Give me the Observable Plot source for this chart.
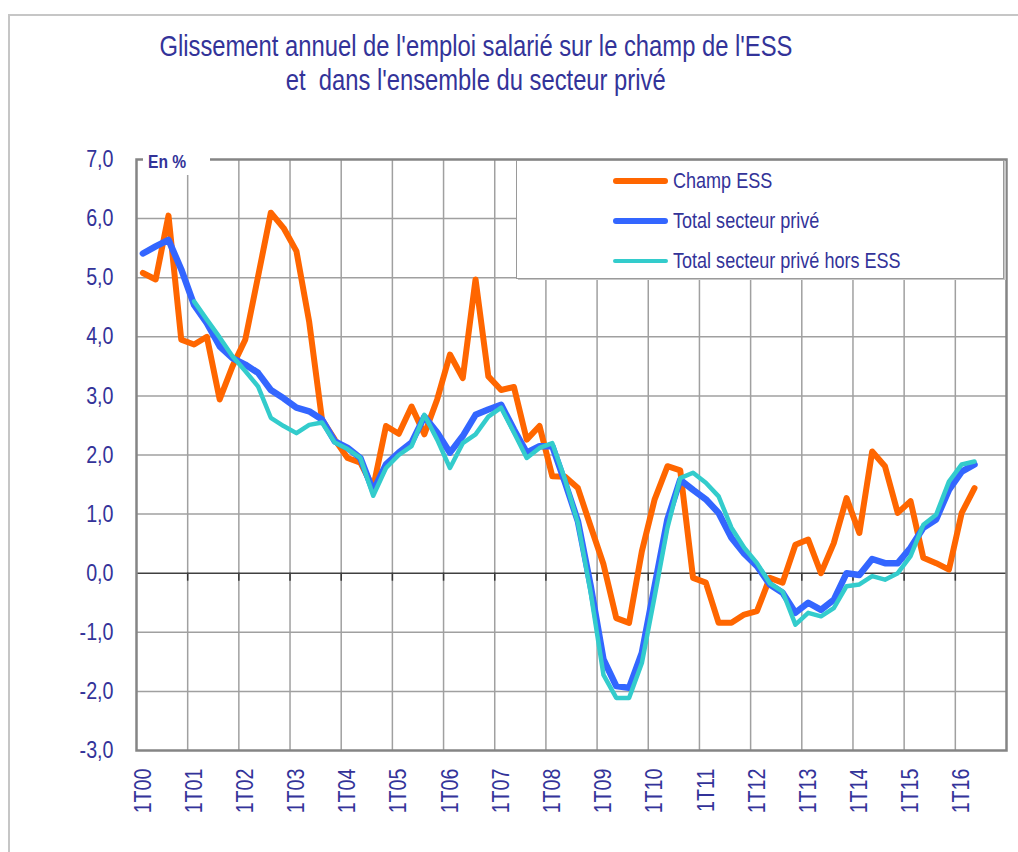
<!DOCTYPE html>
<html><head><meta charset="utf-8">
<script src="https://cdn.jsdelivr.net/npm/d3@7"></script>
<script src="https://cdn.jsdelivr.net/npm/@observablehq/plot@0.6"></script>
<style>
html,body{margin:0;padding:0;background:#fff;overflow:hidden;}
#wrap{position:relative;width:1018px;height:852px;overflow:hidden;font-family:"Liberation Sans",Arial,sans-serif;color:#333399;}
#border{position:absolute;left:8px;top:14px;width:1100px;height:900px;border-left:2px solid #c6c6c6;border-top:2px solid #c6c6c6;}
#chart{position:absolute;left:0;top:0;}
#title{position:absolute;left:0;top:29px;width:952px;text-align:center;font-size:29px;line-height:34px;white-space:pre;}
#title span{display:inline-block;transform:scaleX(0.82);transform-origin:50% 50%;}
#unit{position:absolute;left:143px;top:148px;width:67px;height:27px;background:#fff;font-weight:bold;font-size:19px;line-height:27px;padding-left:5px;box-sizing:border-box;}
#unit span{display:inline-block;transform:scaleX(0.82);transform-origin:0 50%;}
#legend{position:absolute;left:516px;top:160px;width:488px;height:119px;box-sizing:border-box;border:1px solid #9a9a9a;background:#fff;box-shadow:2px 1px 0 #c8c8c8;}
.item{position:absolute;left:96px;height:40px;width:380px;}
.sw{position:absolute;left:0;top:50%;width:55px;border-radius:4px;}
.lb{position:absolute;left:60px;top:0;font-size:22px;line-height:40px;white-space:nowrap;transform:scaleX(0.82);transform-origin:0 50%;}
</style>
</head><body>
<div id="wrap">
  <div id="border"></div>
  <div id="chart"></div>
  <div id="title"></div>
  <div id="unit"><span>En %</span></div>
  <div id="legend"></div>
</div>
<script>
// ---- Data ----
const years = d3.range(0, 17).map(y => String(y).padStart(2, "0"));
const quarters = years.flatMap(y => [1, 2, 3, 4].map(q => q + "T" + y)); // 1T00 .. 4T16
const xTickLabels = years.map(y => "1T" + y);
const yTicks = [-3, -2, -1, 0, 1, 2, 3, 4, 5, 6, 7];
const seriesNames = ["Champ ESS", "Total secteur privé", "Total secteur privé hors ESS"];
const seriesColors = ["#FF6600", "#3366FF", "#33CCCC"];
const seriesWidths = [6, 6.5, 4.5];

const champESS = [5.08, 4.97, 6.05, 3.95, 3.87, 4.00, 2.94, 3.50, 3.95, 5.02, 6.10, 5.84, 5.45, 4.25, 2.60, 2.26,
  1.95, 1.87, 1.45, 2.49, 2.36, 2.82, 2.35, 2.94, 3.70, 3.30, 4.97, 3.33, 3.10, 3.15, 2.26, 2.49,
  1.64, 1.63, 1.44, 0.79, 0.15, -0.76, -0.84, 0.37, 1.25, 1.81, 1.74, -0.08, -0.16, -0.84, -0.84, -0.70,
  -0.64, -0.08, -0.16, 0.48, 0.57, 0.00, 0.51, 1.27, 0.68, 2.06, 1.81, 1.02, 1.22, 0.26, 0.17, 0.06,
  1.02, 1.44];
const totalPrive = [5.41, 5.53, 5.64, 5.14, 4.54, 4.23, 3.84, 3.64, 3.53, 3.39, 3.10, 2.96, 2.80, 2.74, 2.60, 2.23,
  2.12, 1.95, 1.39, 1.84, 2.04, 2.21, 2.65, 2.38, 2.04, 2.32, 2.68, 2.77, 2.85, 2.43, 2.04, 2.15,
  2.15, 1.53, 0.88, -0.22, -1.46, -1.91, -1.94, -1.35, -0.22, 0.91, 1.58, 1.41, 1.25, 1.02, 0.60, 0.33,
  0.12, -0.19, -0.33, -0.67, -0.50, -0.62, -0.45, 0.00, -0.03, 0.24, 0.17, 0.17, 0.43, 0.77, 0.91, 1.41,
  1.72, 1.84];
const horsESS = [null, null, null, null, 4.60, 4.29, 3.99, 3.67, 3.42, 3.16, 2.63, 2.49, 2.37, 2.51, 2.55, 2.21,
  2.10, 1.95, 1.31, 1.78, 2.00, 2.15, 2.68, 2.26, 1.78, 2.20, 2.35, 2.65, 2.80, 2.38, 1.95, 2.12,
  2.20, 1.58, 0.85, -0.33, -1.72, -2.11, -2.11, -1.52, -0.39, 0.77, 1.61, 1.70, 1.53, 1.30, 0.77, 0.43,
  0.17, -0.17, -0.31, -0.87, -0.67, -0.73, -0.59, -0.22, -0.19, -0.05, -0.11, 0.00, 0.29, 0.82, 0.99, 1.55,
  1.84, 1.89];
const titleLines = ["Glissement annuel de l'emploi salarié sur le champ de l'ESS", "et  dans l'ensemble du secteur privé"];

// ---- Build table ----
const allSeries = [champESS, totalPrive, horsESS];
const rows = [];
allSeries.forEach((vals, s) => vals.forEach((v, i) => {
  if (v !== null) rows.push({series: seriesNames[s], pos: i + 0.5, q: quarters[i], value: v});
}));
const yearStarts = d3.range(0, quarters.length + 1, 4);         // category boundaries (each 1Tyy)
const labelPos = xTickLabels.map((_, k) => k * 4 + 0.5);          // centre of each 1Tyy category
const innerYears = yearStarts.filter(p => p > 0 && p < quarters.length);
const gridY = yTicks.filter(v => v > yTicks[0] && v < yTicks[yTicks.length - 1] && v !== 0);

const textColor = "#333399";
const chart = Plot.plot({
  width: 1018, height: 852,
  marginLeft: 136, marginRight: 12, marginTop: 159, marginBottom: 102,
  style: {fontFamily: '"Liberation Sans",Arial,sans-serif', color: textColor, background: "transparent"},
  x: {domain: [0, quarters.length]},
  y: {domain: [yTicks[0], yTicks[yTicks.length - 1]]},
  marks: [
    Plot.ruleY(gridY, {stroke: "#a0a0a0", strokeWidth: 1.5}),
    Plot.ruleX(innerYears, {stroke: "#a0a0a0", strokeWidth: 1.5}),
    Plot.ruleX(innerYears, {y1: 0, y2: -0.135, stroke: "#333", strokeWidth: 1.5}),
    Plot.ruleY([0], {stroke: "#404040", strokeWidth: 1.5}),
    Plot.frame({stroke: "#858585", strokeWidth: 2.5}),
    ...seriesNames.map((name, s) => Plot.line(rows.filter(r => r.series === name), {
      x: "pos", y: "value", stroke: seriesColors[s], strokeWidth: seriesWidths[s],
      strokeLinejoin: "round", strokeLinecap: "round"
    })),
    Plot.axisY({ticks: yTicks, tickSize: 0, tickPadding: 23, fontSize: 24, label: null,
      tickFormat: d => d.toFixed(1).replace(".", ",")}),
    Plot.axisX({ticks: labelPos, tickSize: 0, tickPadding: 18, fontSize: 24, tickRotate: -90, label: null,
      tickFormat: d => xTickLabels[Math.round((d - 0.5) / 4)]})
  ]
});
document.getElementById("chart").appendChild(chart);

// Condense SVG text along its reading direction (narrow face as in the original)
const condense = 0.82;
chart.querySelectorAll("text").forEach(t => {
  const len = t.getComputedTextLength();
  if (len > 0) {
    t.setAttribute("textLength", (len * condense).toFixed(2));
    t.setAttribute("lengthAdjust", "spacingAndGlyphs");
  }
});

// ---- Title ----
const title = document.getElementById("title");
titleLines.forEach((line, k) => {
  const sp = document.createElement("span");
  sp.textContent = line;
  title.appendChild(sp);
  if (k < titleLines.length - 1) title.appendChild(document.createElement("br"));
});

// ---- Legend ----
const legend = document.getElementById("legend");
seriesNames.forEach((name, s) => {
  const it = document.createElement("div");
  it.className = "item";
  it.style.top = (s * 40) + "px";
  const sw = document.createElement("div");
  sw.className = "sw";
  sw.style.background = seriesColors[s];
  sw.style.height = seriesWidths[s] + "px";
  sw.style.marginTop = (-seriesWidths[s] / 2) + "px";
  const lb = document.createElement("div");
  lb.className = "lb";
  lb.textContent = name;
  it.appendChild(sw); it.appendChild(lb);
  legend.appendChild(it);
});
</script>
</body></html>
